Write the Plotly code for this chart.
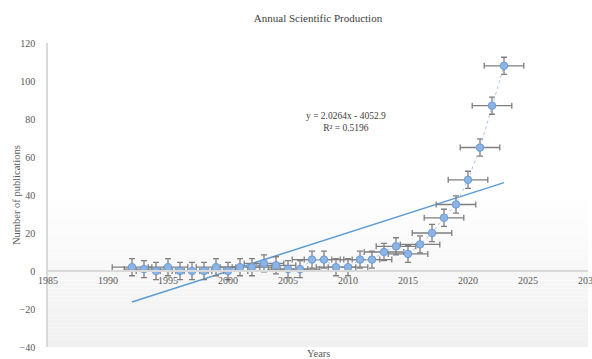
import plotly.graph_objects as go

# ---- data ----
years = list(range(1992, 2024))
publications = [2, 1, 0, 2, 0, 0, 0, 2, 0, 2,
                2, 4, 3, 1, 1, 6, 6, 2, 2, 6,
                6, 10, 13, 9, 14, 20, 28, 35, 48, 65,
                87, 108]
err_y_value = 4.5
err_x_value = 1.65
trend_slope = 2.0264
trend_intercept = -4052.9
trend_r2 = 0.5196
x_tick_values = [1985, 1990, 1995, 2000, 2005, 2010, 2015, 2020, 2025, 2030]
y_tick_values = [-40, -20, 0, 20, 40, 60, 80, 100, 120]

FONT = "Liberation Serif"
TXT = "#595959"

fig = go.Figure()

# background gradient (white at top -> light grey at bottom)
n_strips = 40
g_top, g_bot = 42.0, -40.0
for i in range(n_strips):
    y0 = g_bot + (g_top - g_bot) * i / n_strips
    y1 = g_bot + (g_top - g_bot) * (i + 1) / n_strips
    t = i / (n_strips - 1)
    v = int(round(240 + (255 - 240) * t))
    fig.add_shape(type="rect", xref="paper", yref="y", x0=0, x1=1, y0=y0, y1=y1,
                  fillcolor=f"rgb({v},{v},{v})", line=dict(width=0), layer="below")

# trend line
trend_x = [years[0], years[-1]]
trend_y = [trend_slope * x + trend_intercept for x in trend_x]
fig.add_trace(go.Scatter(x=trend_x, y=trend_y, mode="lines",
                         line=dict(color="#5b9bd5", width=1.5),
                         hoverinfo="skip", showlegend=False))

# data series
fig.add_trace(go.Scatter(
    x=years, y=publications, mode="lines+markers",
    line=dict(color="#a9c8ec", width=1, dash="dot"),
    marker=dict(size=7.5, color="#8db4e3", line=dict(color="#6a9bd8", width=1)),
    error_y=dict(type="constant", value=err_y_value, color="#7f7f7f", thickness=1.3, width=3),
    error_x=dict(type="constant", value=err_x_value, color="#7f7f7f", thickness=1.3, width=3),
    showlegend=False))

fig.update_layout(
    width=592, height=359,
    margin=dict(l=48, r=4, t=43, b=12),
    paper_bgcolor="white", plot_bgcolor="white",
    font=dict(family=FONT, size=10, color=TXT),
    title=dict(text="Annual Scientific Production", x=0.5, xref="paper",
               y=1 - 18 / 359, yanchor="middle", yref="container",
               font=dict(family=FONT, size=11, color="#404040")),
    xaxis=dict(range=[1985, 2030], tickvals=x_tick_values, anchor="free", position=0.25,
               showline=True, linecolor="#d9d9d9", linewidth=1.5, showgrid=False,
               zeroline=False, ticks="", automargin=False, ticklabeloverflow="allow",
               tickfont=dict(family=FONT, size=10, color=TXT)),
    yaxis=dict(range=[-40, 120], tickvals=y_tick_values, showline=True,
               linecolor="#d9d9d9", linewidth=1.5, showgrid=False, zeroline=False,
               ticks="", automargin=False, ticklabelstandoff=9,
               tickfont=dict(family=FONT, size=10, color=TXT)),
    annotations=[
        dict(text="Number of publications", xref="paper", yref="paper", x=-0.0593, y=0.5,
             textangle=-90, showarrow=False, xanchor="center", yanchor="middle",
             font=dict(family=FONT, size=10.5, color=TXT)),
        dict(text="Years", xref="paper", yref="paper", x=0.5, y=-0.023,
             showarrow=False, xanchor="center", yanchor="middle",
             font=dict(family=FONT, size=10.5, color=TXT)),
        dict(text=f"y = {trend_slope}x - {abs(trend_intercept)}<br>R² = {trend_r2}",
             xref="x", yref="y", x=2009.8, y=78.5, showarrow=False,
             xanchor="center", yanchor="middle", align="center",
             font=dict(family=FONT, size=9.5, color="#404040")),
    ],
)

fig.write_html("out.html", config={"displayModeBar": False},
               post_script="document.body.style.margin='0px';document.body.style.overflow='hidden';")
